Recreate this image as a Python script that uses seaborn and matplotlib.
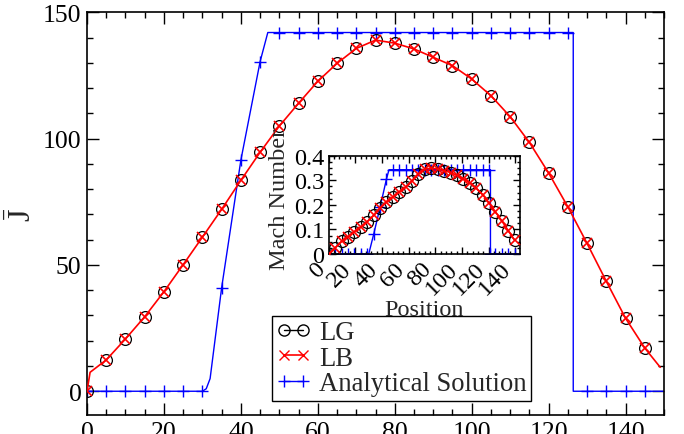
import matplotlib
matplotlib.use("Agg")
import matplotlib.pyplot as plt
import seaborn as sns
from matplotlib.lines import Line2D
from matplotlib.ticker import MultipleLocator, FuncFormatter

# ---------------- data ----------------
# main panel: position vs J-bar
POS = [0, 5, 10, 15, 20, 25, 30, 35, 40, 45, 50, 55, 60, 65, 70, 75,
       80, 85, 90, 95, 100, 105, 110, 115, 120, 125, 130, 135, 140, 145]
J_LG = [0, 12.4, 20.7, 29.5, 39.4, 50.1, 61.0, 72.0, 83.5, 94.6, 105.0,
        114.0, 122.7, 129.8, 135.7, 139.0, 137.8, 135.5, 132.2, 128.9,
        123.6, 117.0, 108.7, 98.5, 86.4, 73.0, 58.5, 43.5, 28.9, 17.1]
POS_LB = [0, 0.8, 5, 10, 15, 20, 25, 30, 35, 40, 45, 50, 55, 60, 65, 70,
          75, 80, 85, 90, 95, 100, 105, 110, 115, 120, 125, 130, 135, 140,
          145, 149]
J_LB = [0, 7.5, 12.4, 20.7, 29.5, 39.4, 50.1, 61.0, 72.0, 83.5, 94.6,
        105.0, 114.0, 122.7, 129.8, 135.7, 139.0, 137.8, 135.5, 132.2,
        128.9, 123.6, 117.0, 108.7, 98.5, 86.4, 73.0, 58.5, 43.5, 28.9,
        17.1, 9.5]
POS_AN = [0, 5, 10, 15, 20, 25, 30, 31, 32, 35, 40, 45, 47, 50, 55, 60,
          65, 70, 75, 80, 85, 90, 95, 100, 105, 110, 115, 120, 125, 126.4,
          126.4, 130, 135, 140, 145, 150]
J_AN = [0, 0, 0, 0, 0, 0, 0, 1, 5, 41, 91.5, 130.5, 142, 142, 142, 142,
        142, 142, 142, 142, 142, 142, 142, 142, 142, 142, 142, 142, 142, 142,
        0, 0, 0, 0, 0, 0]

# inset: position vs Mach number
POS_IN = [0, 4.8, 9.6, 14.4, 19.2, 24.1, 28.9, 33.7, 38.5, 43.3, 48.1,
          52.9, 57.7, 62.5, 67.3, 72.2, 77.0, 81.8, 86.6, 91.4, 96.2, 101.0,
          105.8, 110.6, 115.4, 120.2, 125.0, 129.9, 134.7, 139.5]
MACH_LG = [0, 0.025, 0.051, 0.070, 0.090, 0.110, 0.132, 0.157, 0.187,
           0.210, 0.232, 0.252, 0.272, 0.298, 0.325, 0.346, 0.349, 0.346,
           0.339, 0.331, 0.320, 0.306, 0.290, 0.268, 0.242, 0.208, 0.172,
           0.134, 0.095, 0.055]
MACH_LB = [0, 0.025, 0.051, 0.070, 0.090, 0.110, 0.132, 0.157, 0.187,
           0.210, 0.232, 0.252, 0.272, 0.298, 0.325, 0.346, 0.349, 0.346,
           0.339, 0.331, 0.320, 0.306, 0.290, 0.268, 0.242, 0.208, 0.172,
           0.134, 0.095, 0.055]
POS_AN_IN = [0, 4.8, 9.6, 14.4, 19.2, 24.1, 28.9, 30.0, 33.7, 38.5, 43.3,
             45.2, 48.1, 52.9, 57.7, 62.5, 67.3, 72.2, 77.0, 81.8, 86.6,
             91.4, 96.2, 101.0, 105.8, 110.6, 115.4, 120.2, 121.3, 121.3,
             125.0, 129.9, 134.7, 139.5, 143.7]
MACH_AN = [0, 0, 0, 0, 0, 0, 0, 0, 0.080, 0.190, 0.305, 0.343, 0.343,
           0.343, 0.343, 0.343, 0.343, 0.343, 0.343, 0.343, 0.343, 0.343,
           0.343, 0.343, 0.343, 0.343, 0.343, 0.343, 0.343, 0, 0, 0, 0, 0, 0]

MAIN_XTICKS = [0, 20, 40, 60, 80, 100, 120, 140]
MAIN_YTICKS = [0, 50, 100, 150]
IN_XTICKS = [0, 20, 40, 60, 80, 100, 120, 140]
IN_YTICKS = [0, 0.1, 0.2, 0.3, 0.4]
LABELS = ["LG", "LB", "Analytical Solution"]

# ---------------- style ----------------
sns.set_theme(style="ticks")
plt.rcParams["font.family"] = ["Liberation Serif", "DejaVu Serif"]
plt.rcParams["mathtext.fontset"] = "custom"
plt.rcParams["mathtext.rm"] = "Liberation Serif"
plt.rcParams["mathtext.it"] = "Liberation Serif:italic"
plt.rcParams["axes.linewidth"] = 1.2
plt.rcParams["axes.edgecolor"] = "black"

fig = plt.figure(figsize=(6.84, 4.35), dpi=100)
ax = fig.add_axes([0.1272, 0.0437, 0.8436, 0.9257])

an_mark = [i for i, p in enumerate(POS_AN)
           if p % 5 == 0 and p < 150 and not (i > 0 and POS_AN[i - 1] == p)]
lb_mark = [i for i, p in enumerate(POS_LB) if p % 5 == 0]

sns.lineplot(x=POS_AN, y=J_AN, ax=ax, color="blue", lw=1.0, marker="+",
             markersize=9, markeredgewidth=1.0, markeredgecolor="blue",
             markevery=an_mark, estimator=None, sort=False, zorder=2)
sns.lineplot(x=POS, y=J_LG, ax=ax, color="black", linestyle="none",
             marker="o", markersize=8.5, markerfacecolor="none",
             markeredgecolor="black", markeredgewidth=0.9,
             estimator=None, sort=False, zorder=3)
sns.lineplot(x=POS_LB, y=J_LB, ax=ax, color="red", lw=1.2, marker="x",
             markersize=7, markeredgewidth=1.2, markeredgecolor="red",
             markevery=lb_mark, estimator=None, sort=False, zorder=4)

ax.set_xlim(0, 150)
ax.set_ylim(-9.4, 150)
ax.set_xticks(MAIN_XTICKS)
ax.set_yticks(MAIN_YTICKS)
ax.xaxis.set_minor_locator(MultipleLocator(5))
ax.yaxis.set_minor_locator(MultipleLocator(10))
ax.tick_params(which="both", direction="in", top=True, right=True,
               colors="black", width=1.0)
ax.tick_params(which="major", length=8.5, labelsize=18.5, pad=4)
ax.tick_params(which="minor", length=4.3)
ax.set_xlabel("")
ax.set_ylabel(r"$\bar{\mathrm{J}}$", fontsize=23)
ax.yaxis.set_label_coords(-0.085, 0.5)

handles = [
    Line2D([], [], color="black", lw=1.0, marker="o", markersize=8,
           markerfacecolor="none", markeredgecolor="black"),
    Line2D([], [], color="red", lw=1.2, marker="x", markersize=7,
           markeredgecolor="red"),
    Line2D([], [], color="blue", lw=1.0, marker="+", markersize=9,
           markeredgecolor="blue"),
]
leg = ax.legend(handles, LABELS, loc="lower left",
                bbox_to_anchor=(271.7 / 684, 1 - 401.7 / 435),
                bbox_transform=fig.transFigure, fontsize=19.2, numpoints=2,
                frameon=True, fancybox=False, framealpha=1,
                edgecolor="black", borderpad=0.17, labelspacing=0.02,
                handlelength=1.3, handletextpad=0.3, borderaxespad=0)
leg.get_frame().set_linewidth(1.0)

# ---------------- inset ----------------
axin = fig.add_axes([0.4806, 0.4138, 0.2801, 0.2260])
sns.lineplot(x=POS_AN_IN, y=MACH_AN, ax=axin, color="blue", lw=1.0,
             marker="+", markersize=9, markeredgewidth=1.0,
             markeredgecolor="blue",
             markevery=[i for i in range(len(POS_AN_IN))
                        if i not in (7, 11, 28, 34)],
             estimator=None, sort=False, zorder=2)
sns.lineplot(x=POS_IN, y=MACH_LG, ax=axin, color="black", linestyle="none",
             marker="o", markersize=8.6, markerfacecolor="none",
             markeredgecolor="black", markeredgewidth=0.9,
             estimator=None, sort=False, zorder=3)
sns.lineplot(x=POS_IN, y=MACH_LB, ax=axin, color="red", lw=1.2, marker="x",
             markersize=6.5, markeredgewidth=1.2, markeredgecolor="red",
             estimator=None, sort=False, zorder=4)

axin.set_xlim(0, 143.7)
axin.set_ylim(0, 0.4)
axin.set_xticks(IN_XTICKS)
axin.set_yticks(IN_YTICKS)
axin.yaxis.set_major_formatter(
    FuncFormatter(lambda v, _: "0" if abs(v) < 1e-9 else f"{v:.1f}"))
axin.xaxis.set_minor_locator(MultipleLocator(4))
axin.yaxis.set_minor_locator(MultipleLocator(0.025))
axin.tick_params(which="both", direction="in", top=True, right=True,
                 colors="black", width=1.0)
axin.tick_params(which="major", length=5, labelsize=17.5, pad=3)
axin.tick_params(which="minor", length=2.5)
for lab in axin.get_xticklabels():
    lab.set_rotation(45)
    lab.set_ha("right")
    lab.set_va("top")
axin.set_xlabel("Position", fontsize=17.5, labelpad=0)
axin.set_ylabel("Mach Number", fontsize=17.5)
axin.yaxis.set_label_coords(-0.20, 0.57)

fig.savefig("out.png", dpi=100)
